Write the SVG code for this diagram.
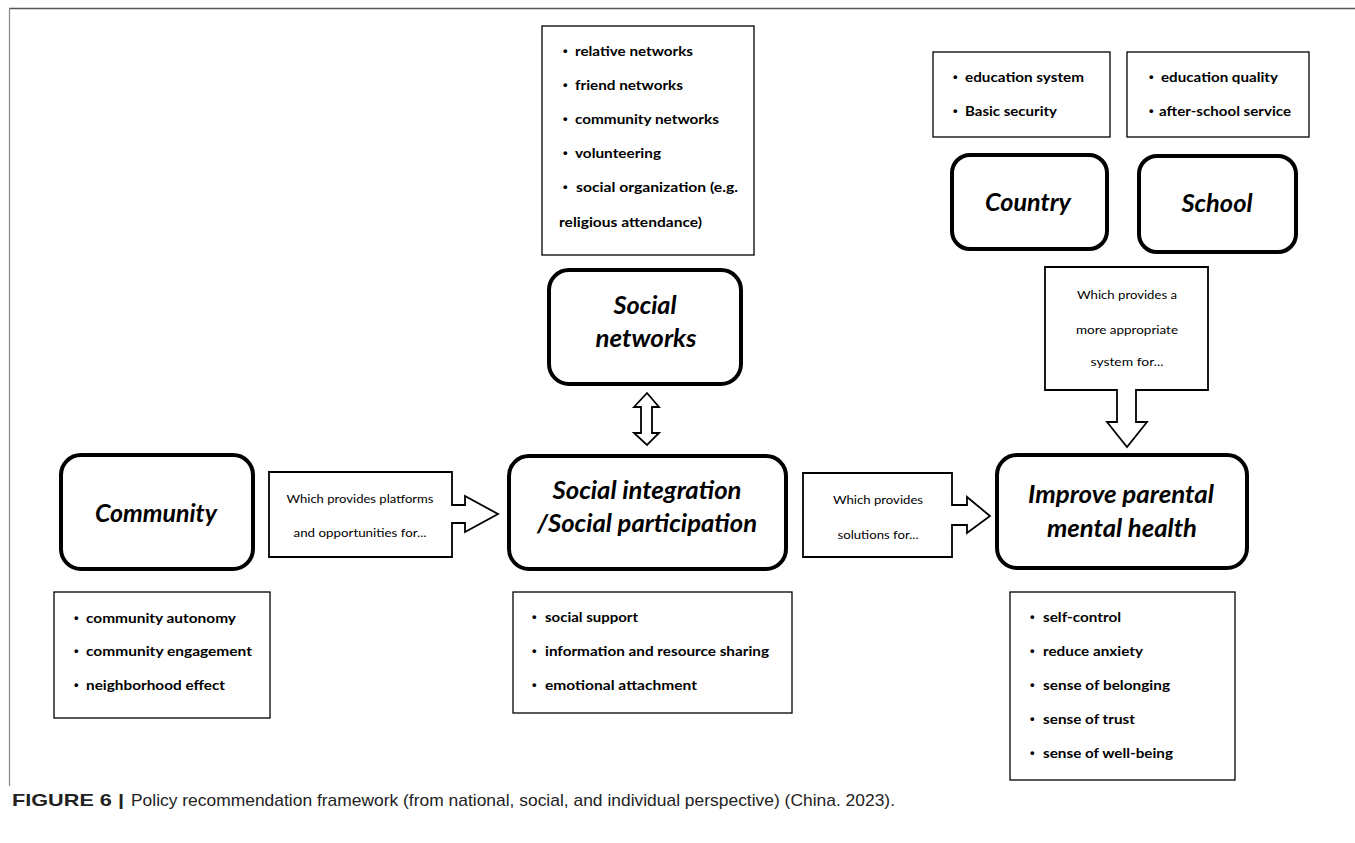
<svg xmlns="http://www.w3.org/2000/svg" width="1355" height="843" viewBox="0 0 1355 843">
<style>
.node{fill:#fff;stroke:#000;stroke-width:4}
.box{fill:#fff;stroke:#000;stroke-width:1.3}
.arr{fill:#fff;stroke:#000;stroke-width:1.8;stroke-linejoin:miter}
.t{font-family:Lato,"Open Sans","Liberation Sans",sans-serif;font-weight:bold;font-style:italic;font-size:24px;fill:#000;text-anchor:middle}
.b{font-family:Lato,"Liberation Sans",sans-serif;font-weight:bold;font-size:13.5px;fill:#000}
.bu{font-family:"Liberation Sans",sans-serif;font-weight:bold;font-size:13px;fill:#000}
.l{font-family:Lato,"Liberation Sans",sans-serif;font-size:12px;fill:#000;text-anchor:middle}
.cap{font-family:"Liberation Sans",Arial,sans-serif;font-size:17px;fill:#222}
</style>
<rect width="1355" height="843" fill="#fff"/>
<g id="frame">
<line x1="9" y1="8.5" x2="1355" y2="8.5" stroke="#555" stroke-width="1.5"/>
<line x1="9.5" y1="8" x2="9.5" y2="786" stroke="#888" stroke-width="1.2"/>
</g>
<g id="connectors">
<path id="arrow-community" class="arr" d="M269,472 H452 V505 H465 V496 L498,514 L465,532 V523 H452 V557 H269 Z"/>
<path id="arrow-integration" class="arr" d="M803,473 H952 V505 H967 V497 L990,516 L967,533 V525 H952 V557 H803 Z"/>
<path id="arrow-country" class="arr" d="M1045,267 H1208 V390 H1136 V422 H1147 L1127,447 L1107,422 H1117 V390 H1045 Z"/>
<path id="arrow-double" class="arr" d="M647,393 L659,407 H652 V433 H659 L647,445 L634,433 H641 V407 H634 Z"/>
</g>
<g id="labels">
<text class="l" x="360" y="503" textLength="147" lengthAdjust="spacingAndGlyphs">Which provides platforms</text>
<text class="l" x="360" y="537" textLength="133" lengthAdjust="spacingAndGlyphs">and opportunities for...</text>
<text class="l" x="878" y="504" textLength="90" lengthAdjust="spacingAndGlyphs">Which provides</text>
<text class="l" x="878" y="539" textLength="81" lengthAdjust="spacingAndGlyphs">solutions for...</text>
<text class="l" x="1127" y="299" textLength="100" lengthAdjust="spacingAndGlyphs">Which provides a</text>
<text class="l" x="1127" y="334" textLength="102" lengthAdjust="spacingAndGlyphs">more appropriate</text>
<text class="l" x="1127" y="366" textLength="73" lengthAdjust="spacingAndGlyphs">system for...</text>
</g>
<g id="node-social-networks-items">
<rect class="box" x="542" y="26" width="212" height="229"/>
<text class="bu" x="563" y="55">•</text><text class="b" x="575" y="56" textLength="118" lengthAdjust="spacingAndGlyphs">relative networks</text>
<text class="bu" x="563" y="89">•</text><text class="b" x="575" y="90" textLength="108" lengthAdjust="spacingAndGlyphs">friend networks</text>
<text class="bu" x="563" y="123">•</text><text class="b" x="575" y="124" textLength="144" lengthAdjust="spacingAndGlyphs">community networks</text>
<text class="bu" x="563" y="157">•</text><text class="b" x="575" y="158" textLength="86" lengthAdjust="spacingAndGlyphs">volunteering</text>
<text class="bu" x="563" y="191">•</text><text class="b" x="576" y="192" textLength="162" lengthAdjust="spacingAndGlyphs">social organization (e.g.</text>
<text class="b" x="559" y="227" textLength="143" lengthAdjust="spacingAndGlyphs">religious attendance)</text>
</g>
<g id="node-social-networks">
<rect class="node" x="549" y="270" width="192" height="114" rx="20"/>
<text class="t" x="645" y="314" textLength="63" lengthAdjust="spacingAndGlyphs">Social</text>
<text class="t" x="646" y="347" textLength="101" lengthAdjust="spacingAndGlyphs">networks</text>
</g>
<g id="node-country-items">
<rect class="box" x="933" y="52" width="177" height="85"/>
<text class="bu" x="953" y="81">•</text><text class="b" x="965" y="82" textLength="119" lengthAdjust="spacingAndGlyphs">education system</text>
<text class="bu" x="953" y="115">•</text><text class="b" x="965" y="116" textLength="92" lengthAdjust="spacingAndGlyphs">Basic security</text>
</g>
<g id="node-school-items">
<rect class="box" x="1127" y="52" width="182" height="85"/>
<text class="bu" x="1149" y="81">•</text><text class="b" x="1161" y="82" textLength="117" lengthAdjust="spacingAndGlyphs">education quality</text>
<text class="bu" x="1149" y="115">•</text><text class="b" x="1159" y="116" textLength="132" lengthAdjust="spacingAndGlyphs">after-school service</text>
</g>
<g id="node-country">
<rect class="node" x="952" y="155" width="155" height="94" rx="18"/>
<text class="t" x="1028" y="211" textLength="86" lengthAdjust="spacingAndGlyphs">Country</text>
</g>
<g id="node-school">
<rect class="node" x="1139" y="156" width="157" height="96" rx="18"/>
<text class="t" x="1217" y="212" textLength="71" lengthAdjust="spacingAndGlyphs">School</text>
</g>
<g id="node-community">
<rect class="node" x="61" y="455" width="192" height="114" rx="20"/>
<text class="t" x="156" y="522" textLength="122" lengthAdjust="spacingAndGlyphs">Community</text>
</g>
<g id="node-social-integration">
<rect class="node" x="509" y="456" width="277" height="113" rx="20"/>
<text class="t" x="647" y="499" textLength="189" lengthAdjust="spacingAndGlyphs">Social integration</text>
<text class="t" x="647" y="532" textLength="220" lengthAdjust="spacingAndGlyphs">/Social participation</text>
</g>
<g id="node-improve">
<rect class="node" x="997" y="455" width="250" height="113" rx="20"/>
<text class="t" x="1121" y="503" textLength="186" lengthAdjust="spacingAndGlyphs">Improve parental</text>
<text class="t" x="1122" y="537" textLength="150" lengthAdjust="spacingAndGlyphs">mental health</text>
</g>
<g id="node-community-items">
<rect class="box" x="54" y="592" width="216" height="126"/>
<text class="bu" x="74" y="622">•</text><text class="b" x="86" y="623" textLength="150" lengthAdjust="spacingAndGlyphs">community autonomy</text>
<text class="bu" x="74" y="655">•</text><text class="b" x="86" y="656" textLength="166" lengthAdjust="spacingAndGlyphs">community engagement</text>
<text class="bu" x="74" y="689">•</text><text class="b" x="86" y="690" textLength="139" lengthAdjust="spacingAndGlyphs">neighborhood effect</text>
</g>
<g id="node-integration-items">
<rect class="box" x="513" y="592" width="279" height="121"/>
<text class="bu" x="532" y="621">•</text><text class="b" x="545" y="622" textLength="93" lengthAdjust="spacingAndGlyphs">social support</text>
<text class="bu" x="532" y="655">•</text><text class="b" x="545" y="656" textLength="224" lengthAdjust="spacingAndGlyphs">information and resource sharing</text>
<text class="bu" x="532" y="689">•</text><text class="b" x="545" y="690" textLength="152" lengthAdjust="spacingAndGlyphs">emotional attachment</text>
</g>
<g id="node-improve-items">
<rect class="box" x="1010" y="592" width="225" height="188"/>
<text class="bu" x="1030" y="621">•</text><text class="b" x="1043" y="622" textLength="78" lengthAdjust="spacingAndGlyphs">self-control</text>
<text class="bu" x="1030" y="655">•</text><text class="b" x="1043" y="656" textLength="100" lengthAdjust="spacingAndGlyphs">reduce anxiety</text>
<text class="bu" x="1030" y="689">•</text><text class="b" x="1043" y="690" textLength="127" lengthAdjust="spacingAndGlyphs">sense of belonging</text>
<text class="bu" x="1030" y="723">•</text><text class="b" x="1043" y="724" textLength="92" lengthAdjust="spacingAndGlyphs">sense of trust</text>
<text class="bu" x="1030" y="757">•</text><text class="b" x="1043" y="758" textLength="130" lengthAdjust="spacingAndGlyphs">sense of well-being</text>
</g>
<g id="caption">
<text class="cap" x="12" y="806"><tspan font-weight="bold" textLength="112" lengthAdjust="spacingAndGlyphs">FIGURE 6 |</tspan><tspan x="131" textLength="764" lengthAdjust="spacingAndGlyphs">Policy recommendation framework (from national, social, and individual perspective) (China. 2023).</tspan></text>
</g>
</svg>
